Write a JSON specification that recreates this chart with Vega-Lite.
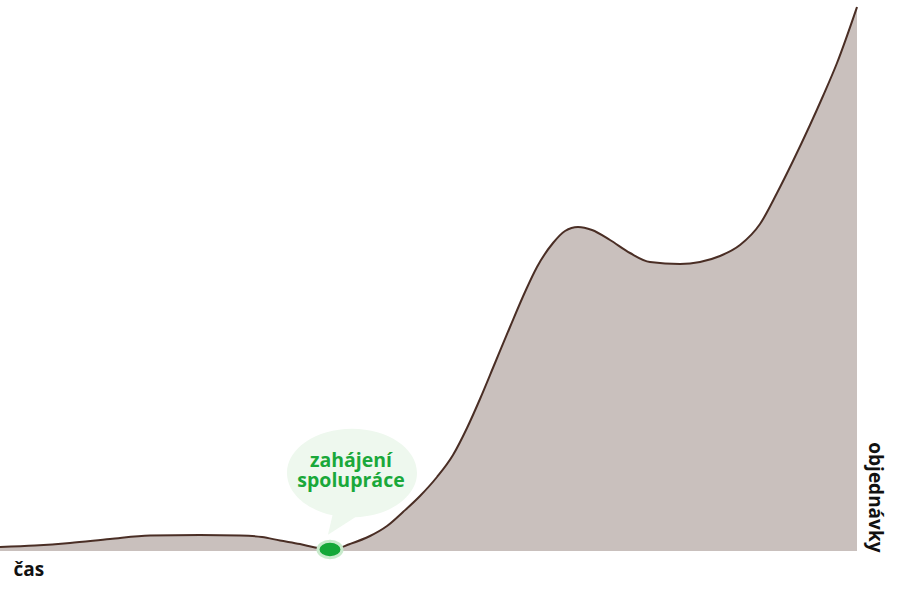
{
  "$schema": "https://vega.github.io/schema/vega-lite/v6.json",
  "autosize": "none",
  "width": 857,
  "height": 546,
  "padding": {"left": 0, "top": 5, "right": 43, "bottom": 49},
  "background": "white",
  "config": {"view": {"stroke": null}},
  "datasets": {
    "curve": [
      {"cas": 0, "obj": 4},
      {"cas": 35, "obj": 5.5},
      {"cas": 70, "obj": 8},
      {"cas": 110, "obj": 12},
      {"cas": 150, "obj": 15.5},
      {"cas": 200, "obj": 16},
      {"cas": 240, "obj": 15.5},
      {"cas": 262, "obj": 14},
      {"cas": 280, "obj": 10.5},
      {"cas": 300, "obj": 7},
      {"cas": 315, "obj": 3.5},
      {"cas": 330, "obj": 1},
      {"cas": 350, "obj": 7},
      {"cas": 370, "obj": 15},
      {"cas": 387, "obj": 25},
      {"cas": 403, "obj": 39},
      {"cas": 420, "obj": 55},
      {"cas": 437, "obj": 74},
      {"cas": 453, "obj": 96},
      {"cas": 467, "obj": 123},
      {"cas": 480, "obj": 152},
      {"cas": 495, "obj": 188},
      {"cas": 510, "obj": 224},
      {"cas": 525, "obj": 259},
      {"cas": 537, "obj": 284},
      {"cas": 553, "obj": 308},
      {"cas": 565, "obj": 320},
      {"cas": 578, "obj": 324},
      {"cas": 592, "obj": 321},
      {"cas": 610, "obj": 311},
      {"cas": 630, "obj": 298},
      {"cas": 650, "obj": 289},
      {"cas": 680, "obj": 287},
      {"cas": 700, "obj": 289},
      {"cas": 720, "obj": 295},
      {"cas": 740, "obj": 306},
      {"cas": 760, "obj": 327},
      {"cas": 777, "obj": 358},
      {"cas": 793, "obj": 390},
      {"cas": 810, "obj": 426},
      {"cas": 823, "obj": 455},
      {"cas": 837, "obj": 488},
      {"cas": 857, "obj": 544}
    ],
    "bubble": [{"cas": 352, "obj": 78}],
    "start": [{"cas": 330, "obj": 1.5}],
    "label": [
      {"cas": 351, "obj": 90, "text": "zahájení\nspolupráce"}
    ]
  },
  "layer": [
    {
      "data": {"name": "curve"},
      "mark": {
        "type": "area",
        "interpolate": "monotone",
        "color": "#c9c0bd",
        "opacity": 1,
        "line": {"color": "#4a2e25", "strokeWidth": 2}
      },
      "encoding": {
        "x": {
          "field": "cas", "type": "quantitative",
          "scale": {"domain": [0, 857], "nice": false, "zero": false},
          "axis": {
            "title": "čas", "domain": false, "ticks": false, "labels": false, "grid": false,
            "titleAnchor": "start", "titleAlign": "left", "titleX": 13, "titleY": 24,
            "titleBaseline": "alphabetic", "titleFont": "Open Sans", "titleFontSize": 19,
            "titleFontWeight": "bold", "titleColor": "#111111"
          }
        },
        "y": {
          "field": "obj", "type": "quantitative",
          "scale": {"domain": [0, 546], "nice": false},
          "axis": {
            "orient": "right", "title": "objednávky", "domain": false, "ticks": false,
            "labels": false, "grid": false, "titleAngle": 90, "titleAlign": "right",
            "titleBaseline": "middle", "titleX": 17, "titleY": 547,
            "titleFont": "Open Sans", "titleFontSize": 19, "titleFontWeight": "bold",
            "titleColor": "#111111"
          }
        }
      }
    },
    {
      "data": {"name": "bubble"},
      "mark": {
        "type": "point",
        "filled": true,
        "shape": "M -1 0 A 1 0.68 0 0 1 1 0 A 1 0.68 0 0 1 0.05 0.68 L -0.37 0.95 L -0.3 0.65 A 1 0.68 0 0 1 -1 0 Z",
        "size": 16900,
        "color": "#eef8ee",
        "opacity": 1,
        "strokeWidth": 0
      },
      "encoding": {
        "x": {"field": "cas", "type": "quantitative"},
        "y": {"field": "obj", "type": "quantitative"}
      }
    },
    {
      "data": {"name": "start"},
      "mark": {
        "type": "point",
        "shape": "M -1 0 A 1 0.68 0 1 1 1 0 A 1 0.68 0 1 1 -1 0 Z",
        "size": 576,
        "fill": "#14a838",
        "fillOpacity": 1,
        "stroke": "#c8ebcc",
        "strokeWidth": 3,
        "opacity": 1
      },
      "encoding": {
        "x": {"field": "cas", "type": "quantitative"},
        "y": {"field": "obj", "type": "quantitative"}
      }
    },
    {
      "data": {"name": "label"},
      "mark": {
        "type": "text",
        "font": "Open Sans",
        "fontSize": 19.5,
        "fontWeight": "bold",
        "color": "#1aa83a",
        "align": "center",
        "baseline": "middle",
        "lineBreak": "\n",
        "lineHeight": 20
      },
      "encoding": {
        "x": {"field": "cas", "type": "quantitative"},
        "y": {"field": "obj", "type": "quantitative"},
        "text": {"field": "text"}
      }
    }
  ]
}
